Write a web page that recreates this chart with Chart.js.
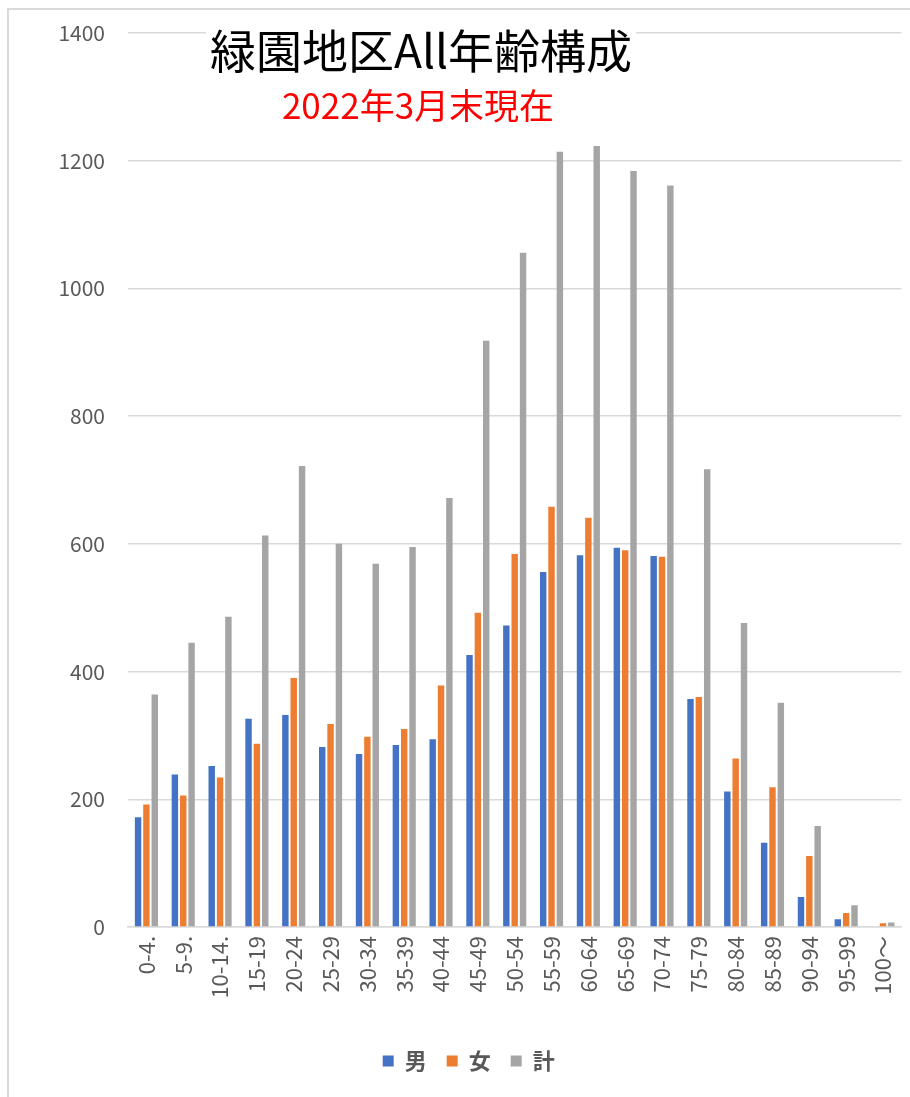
<!DOCTYPE html>
<html>
<head>
<meta charset="utf-8">
<script src="https://cdn.jsdelivr.net/npm/chart.js@4.4.0/dist/chart.umd.min.js"></script>
<style>
  html, body { margin: 0; padding: 0; background: #fff; }
  #chart-area { display: block; }
</style>
</head>
<body>
<canvas id="chart-area" width="910" height="1097"></canvas>
<script>
/* 緑園地区 年齢構成 2022年3月末 */

const ageGroups = [
  "0-4.", "5-9.", "10-14.", "15-19", "20-24", "25-29", "30-34", "35-39",
  "40-44", "45-49", "50-54", "55-59", "60-64", "65-69", "70-74", "75-79",
  "80-84", "85-89", "90-94", "95-99", "100～",
];
const male = [172, 239, 252, 326, 332, 282, 271, 285, 294, 426, 472, 556, 582, 594, 581, 357, 212, 132, 47, 12, 1];
const female = [192, 206, 234, 287, 390, 318, 298, 310, 378, 492, 584, 658, 641, 590, 580, 360, 264, 219, 111, 22, 6];
const total = [364, 445, 486, 613, 722, 600, 569, 595, 672, 918, 1056, 1214, 1223, 1184, 1161, 717, 476, 351, 158, 34, 7];
const seriesNames = ["男", "女", "計"];
const yMax = 1400;
const yStep = 200;

const mainTitle = "緑園地区All年齢構成";
const subTitle = "2022年3月末現在";

const FONT = "'Noto Sans CJK JP', 'Noto Sans', sans-serif";

// frame + overlaid titles (Excel style)
const decorations = {
  id: "decorations",
  beforeDraw(chart) {
    const ctx = chart.ctx;
    ctx.save();
    ctx.fillStyle = "#fff";
    ctx.fillRect(0, 0, chart.width, chart.height);
    ctx.strokeStyle = "#d9d9d9";
    ctx.lineWidth = 2;
    ctx.beginPath();
    ctx.moveTo(8, chart.height);
    ctx.lineTo(8, 9);
    ctx.lineTo(chart.width, 9);
    ctx.stroke();
    ctx.restore();
  },
  afterDraw(chart) {
    const ctx = chart.ctx;
    ctx.save();
    ctx.font = "46px " + FONT;
    const w = ctx.measureText(mainTitle).width;
    ctx.fillStyle = "#fff";
    ctx.fillRect(421 - w / 2 - 4, 27, w + 8, 48);
    ctx.fillStyle = "#000";
    ctx.textAlign = "center";
    ctx.textBaseline = "middle";
    ctx.fillText(mainTitle, 421, 51);
    ctx.font = "35px " + FONT;
    ctx.fillStyle = "#ff0000";
    ctx.fillText(subTitle, 418, 106);
    ctx.restore();
  },
};

let config = {
  type: "bar",
  data: {
    labels: ageGroups,
    datasets: [
      { label: seriesNames[0], data: male, backgroundColor: "#4472c4" },
      { label: seriesNames[1], data: female, backgroundColor: "#ed7d31" },
      { label: seriesNames[2], data: total, backgroundColor: "#a5a5a5" },
    ],
  },
  options: {
    responsive: false,
    animation: false,
    categoryPercentage: 0.68,
    barPercentage: 0.77,
    layout: {
      padding: { top: 33, left: 36, right: 8.6, bottom: 15 },
    },
    plugins: {
      legend: {
        position: "bottom",
        labels: {
          boxWidth: 11,
          boxHeight: 11,
          padding: 20,
          color: "#595959",
          font: { size: 22, weight: "bold", family: FONT },
        },
      },
      tooltip: { enabled: false },
      title: { display: false },
    },
    scales: {
      x: {
        grid: { display: false, drawTicks: false },
        border: { display: true, color: "#d9d9d9", width: 1.5 },
        ticks: {
          minRotation: 90,
          maxRotation: 90,
          autoSkip: false,
          padding: 9,
          color: "#595959",
          font: { size: 22, family: FONT },
        },
        afterFit: (scale) => {
          scale.height = 103;
          scale.paddingLeft = 0;
          scale.paddingRight = 0;
        },
      },
      y: {
        min: 0,
        max: yMax,
        grid: { color: "#d9d9d9", lineWidth: 1.5, drawTicks: false },
        border: { display: false },
        ticks: {
          stepSize: yStep,
          padding: 23,
          color: "#595959",
          font: { size: 21, family: FONT },
          callback: (v) => String(v),
        },
        afterFit: (scale) => {
          scale.width = 128 - 36;
          // let layout.padding.top decide where the 1400 line sits
          scale.paddingTop = 0;
          scale.paddingBottom = 0;
        },
      },
    },
  },
  plugins: [decorations],
};

window.onload = function () {
  let ctx = document.getElementById("chart-area").getContext("2d");
  window.myBar = new Chart(ctx, config);
};
</script>
</body>
</html>
